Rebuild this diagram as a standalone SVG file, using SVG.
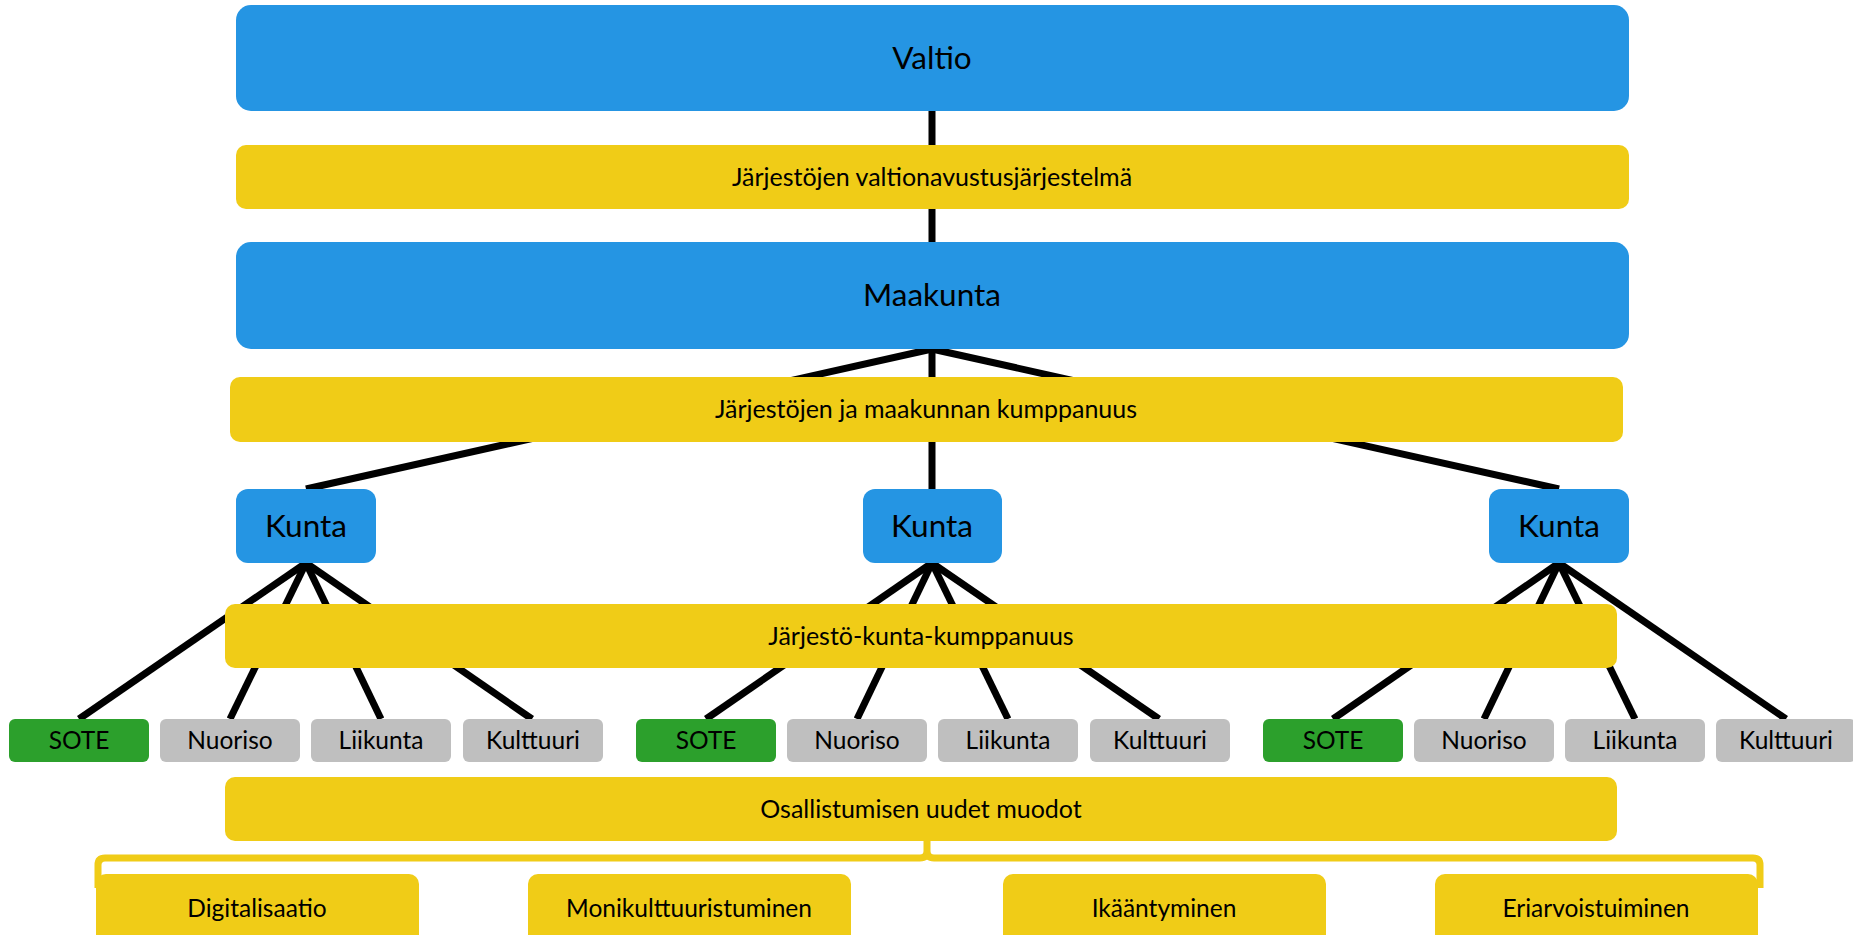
<svg xmlns="http://www.w3.org/2000/svg" width="1853" height="935" viewBox="0 0 1853 935">
<style>
.blue{fill:#2595E3}
.yel{fill:#F0CC17}
.green{fill:#2CA02C}
.gray{fill:#BFBFBF}
.big{font-family:Lato,"Liberation Sans",sans-serif;font-size:31.5px;fill:#000;text-anchor:middle}
.lab{font-family:Lato,"Liberation Sans",sans-serif;font-size:25px;fill:#000;text-anchor:middle}
.sm{font-family:Lato,"Liberation Sans",sans-serif;font-size:24.5px;fill:#000;text-anchor:middle}
.ln{stroke:#000;stroke-width:7;fill:none;stroke-linecap:butt}
.br{stroke:#F0CC17;stroke-width:7;fill:none}
</style>
<g id="connectors">
<line class="ln" x1="932" y1="111" x2="932" y2="242"/>
<line class="ln" x1="932" y1="349" x2="306" y2="489"/>
<line class="ln" x1="932" y1="349" x2="932" y2="489"/>
<line class="ln" x1="932" y1="349" x2="1559" y2="489"/>
<line class="ln" x1="306" y1="563" x2="79" y2="719"/>
<line class="ln" x1="306" y1="563" x2="230" y2="719"/>
<line class="ln" x1="306" y1="563" x2="381" y2="719"/>
<line class="ln" x1="306" y1="563" x2="532" y2="719"/>
<line class="ln" x1="932" y1="563" x2="706" y2="719"/>
<line class="ln" x1="932" y1="563" x2="857" y2="719"/>
<line class="ln" x1="932" y1="563" x2="1008" y2="719"/>
<line class="ln" x1="932" y1="563" x2="1159" y2="719"/>
<line class="ln" x1="1559" y1="563" x2="1333" y2="719"/>
<line class="ln" x1="1559" y1="563" x2="1484" y2="719"/>
<line class="ln" x1="1559" y1="563" x2="1635" y2="719"/>
<line class="ln" x1="1559" y1="563" x2="1786" y2="719"/>
<path class="br" d="M 98 888 L 98 865 Q 98 858 105 858 L 920 858 Q 927 858 927 851 L 927 841 M 927 851 Q 927 858 934 858 L 1753 858 Q 1760 858 1760 865 L 1760 888"/>
</g>
<g id="valtio"><rect class="blue" x="236" y="5" width="1393" height="106" rx="15"/><text class="big" x="932" y="69">Valtio</text></g>
<g id="valtionavustus"><rect class="yel" x="236" y="145" width="1393" height="64" rx="10"/><text class="lab" x="932" y="186">Järjestöjen valtionavustusjärjestelmä</text></g>
<g id="maakunta"><rect class="blue" x="236" y="242" width="1393" height="107" rx="15"/><text class="big" x="932" y="306">Maakunta</text></g>
<g id="maakuntakumppanuus"><rect class="yel" x="230" y="377" width="1393" height="65" rx="10"/><text class="lab" x="926" y="418">Järjestöjen ja maakunnan kumppanuus</text></g>
<g id="kunta1"><rect class="blue" x="236" y="489" width="140" height="74" rx="12"/><text class="big" x="306" y="537">Kunta</text></g>
<g id="kunta2"><rect class="blue" x="863" y="489" width="139" height="74" rx="12"/><text class="big" x="932" y="537">Kunta</text></g>
<g id="kunta3"><rect class="blue" x="1489" y="489" width="140" height="74" rx="12"/><text class="big" x="1559" y="537">Kunta</text></g>
<g id="kuntakumppanuus"><rect class="yel" x="225" y="604" width="1392" height="64" rx="10"/><text class="lab" x="921" y="645">Järjestö-kunta-kumppanuus</text></g>
<g id="sote1"><rect class="green" x="9" y="719" width="140" height="43" rx="6"/><text class="sm" x="79" y="749">SOTE</text></g>
<g id="nuoriso1"><rect class="gray" x="160" y="719" width="140" height="43" rx="6"/><text class="sm" x="230" y="749">Nuoriso</text></g>
<g id="liikunta1"><rect class="gray" x="311" y="719" width="140" height="43" rx="6"/><text class="sm" x="381" y="749">Liikunta</text></g>
<g id="kulttuuri1"><rect class="gray" x="463" y="719" width="140" height="43" rx="6"/><text class="sm" x="533" y="749">Kulttuuri</text></g>
<g id="sote2"><rect class="green" x="636" y="719" width="140" height="43" rx="6"/><text class="sm" x="706" y="749">SOTE</text></g>
<g id="nuoriso2"><rect class="gray" x="787" y="719" width="140" height="43" rx="6"/><text class="sm" x="857" y="749">Nuoriso</text></g>
<g id="liikunta2"><rect class="gray" x="938" y="719" width="140" height="43" rx="6"/><text class="sm" x="1008" y="749">Liikunta</text></g>
<g id="kulttuuri2"><rect class="gray" x="1090" y="719" width="140" height="43" rx="6"/><text class="sm" x="1160" y="749">Kulttuuri</text></g>
<g id="sote3"><rect class="green" x="1263" y="719" width="140" height="43" rx="6"/><text class="sm" x="1333" y="749">SOTE</text></g>
<g id="nuoriso3"><rect class="gray" x="1414" y="719" width="140" height="43" rx="6"/><text class="sm" x="1484" y="749">Nuoriso</text></g>
<g id="liikunta3"><rect class="gray" x="1565" y="719" width="140" height="43" rx="6"/><text class="sm" x="1635" y="749">Liikunta</text></g>
<g id="kulttuuri3"><rect class="gray" x="1716" y="719" width="140" height="43" rx="6"/><text class="sm" x="1786" y="749">Kulttuuri</text></g>
<g id="osallistuminen"><rect class="yel" x="225" y="777" width="1392" height="64" rx="10"/><text class="lab" x="921" y="818">Osallistumisen uudet muodot</text></g>
<g id="digitalisaatio"><rect class="yel" x="96" y="874" width="323" height="80" rx="10"/><text class="sm" x="257" y="917">Digitalisaatio</text></g>
<g id="monikulttuuristuminen"><rect class="yel" x="528" y="874" width="323" height="80" rx="10"/><text class="sm" x="689" y="917">Monikulttuuristuminen</text></g>
<g id="ikaantyminen"><rect class="yel" x="1003" y="874" width="323" height="80" rx="10"/><text class="sm" x="1164" y="917">Ikääntyminen</text></g>
<g id="eriarvoistuiminen"><rect class="yel" x="1435" y="874" width="323" height="80" rx="10"/><text class="sm" x="1596" y="917">Eriarvoistuiminen</text></g>
</svg>
